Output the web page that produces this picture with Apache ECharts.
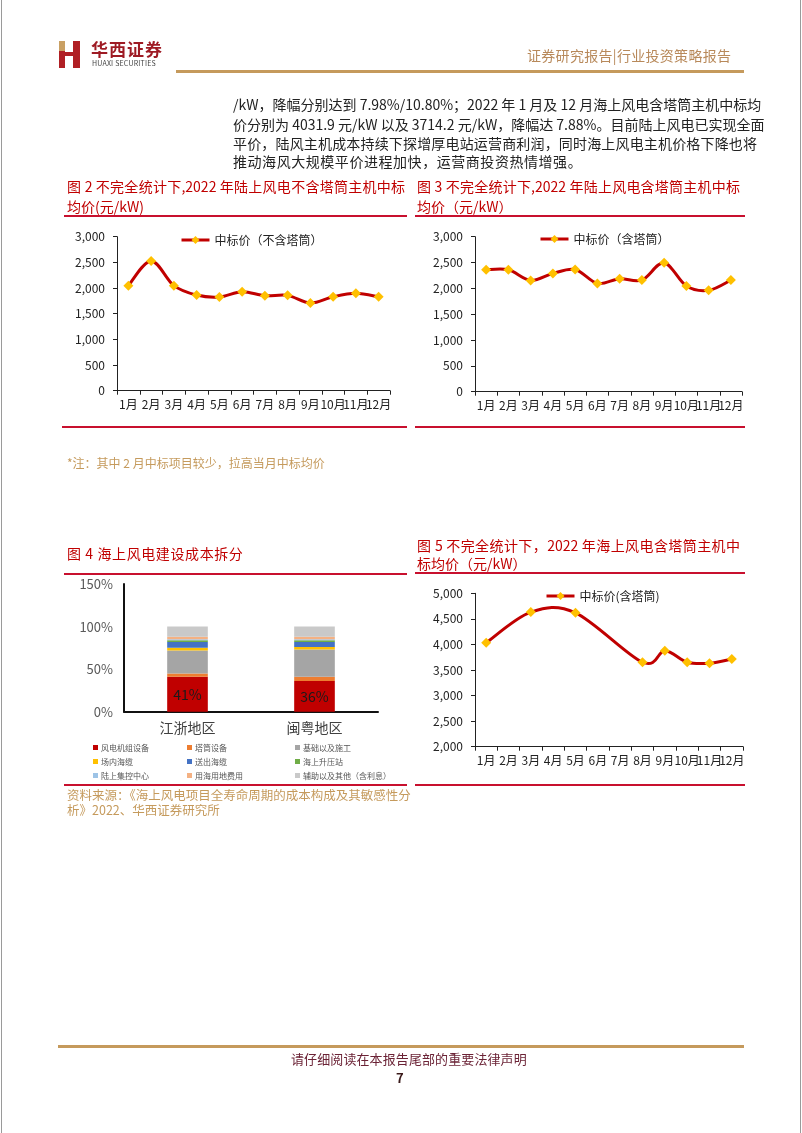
<!DOCTYPE html>
<html><head><meta charset="utf-8">
<script src="https://cdn.jsdelivr.net/npm/echarts/dist/echarts.min.js"></script>
<style>
html,body{margin:0;padding:0;background:#fff;}
#page{position:relative;width:802px;height:1133px;overflow:hidden;font-family:'Noto Sans CJK SC','Noto Sans',sans-serif;background:#fff;}
#chart{position:absolute;left:0;top:0;width:802px;height:1133px;}
.t{position:absolute;white-space:nowrap;}
.j{text-align:justify;text-align-last:justify;}
.body{font-size:14px;line-height:20px;color:#222;left:233px;width:524px;}
.ttl{font-size:14px;line-height:18px;color:#C00000;}
.rl{position:absolute;height:2px;background:#C8102E;}
.gold{position:absolute;height:3px;background:#C59A5C;}
.src{font-size:12.5px;line-height:16px;color:#C59A5C;}
.edge{position:absolute;top:0;width:1px;height:1133px;background:#9a9a9a;}
</style></head>
<body>
<div id="page">
<div id="chart"></div>
<div class="edge" style="left:1px"></div>
<div class="edge" style="left:800px"></div>
<!-- logo -->
<div style="position:absolute;left:59px;top:41px;width:6px;height:10px;background:#C9A063"></div>
<div style="position:absolute;left:59px;top:51px;width:6px;height:17px;background:#B01F24"></div>
<div style="position:absolute;left:65px;top:52px;width:9px;height:4px;background:#B01F24"></div>
<div style="position:absolute;left:73px;top:41px;width:7px;height:27px;background:#B01F24"></div>
<div class="t" style="left:91px;top:40px;font-size:17px;line-height:18px;font-weight:bold;color:#9E1B24;letter-spacing:1px">华西证券</div>
<div class="t" style="left:92px;top:59px;font-size:7px;line-height:8px;color:#444;letter-spacing:0.2px">HUAXI SECURITIES</div>
<div class="t" style="left:527px;top:46px;font-size:14px;line-height:18px;color:#B8895A;letter-spacing:0.3px">证券研究报告|行业投资策略报告</div>
<div class="gold" style="left:176px;top:70px;width:568px;"></div>

<div class="t body j" style="top:94px">/kW，降幅分别达到 7.98%/10.80%；2022 年 1 月及 12 月海上风电含塔筒主机中标均</div>
<div class="t body j" style="top:114px">价分别为 4031.9 元/kW 以及 3714.2 元/kW，降幅达 7.88%。目前陆上风电已实现全面</div>
<div class="t body j" style="top:133px">平价，陆风主机成本持续下探增厚电站运营商利润，同时海上风电主机价格下降也将</div>
<div class="t body" style="top:151px;letter-spacing:0.55px">推动海风大规模平价进程加快，运营商投资热情增强。</div>

<!-- Figure 2 -->
<div class="t ttl j" style="left:67px;top:177px;width:338px">图 2 不完全统计下,2022 年陆上风电不含塔筒主机中标</div>
<div class="t ttl" style="left:67px;top:197px">均价(元/kW)</div>
<div class="rl" style="left:64px;top:215px;width:343px"></div>
<div class="rl" style="left:62px;top:426px;width:345px"></div>
<!-- Figure 3 -->
<div class="t ttl j" style="left:417px;top:177px;width:323px">图 3 不完全统计下,2022 年陆上风电含塔筒主机中标</div>
<div class="t ttl" style="left:417px;top:197px">均价（元/kW）</div>
<div class="rl" style="left:415px;top:215px;width:330px"></div>
<div class="rl" style="left:415px;top:426px;width:330px"></div>

<div class="t src" style="left:67px;top:455px;font-size:12px">*注：其中 2 月中标项目较少，拉高当月中标均价</div>

<!-- Figure 4 -->
<div class="t ttl" style="left:67px;top:544px;letter-spacing:0.6px">图 4 海上风电建设成本拆分</div>
<div class="rl" style="left:64px;top:573px;width:343px"></div>
<div class="rl" style="left:64px;top:784px;width:343px"></div>
<div class="t src j" style="left:67px;top:787px;width:338px">资料来源：《海上风电项目全寿命周期的成本构成及其敏感性分</div>
<div class="t src" style="left:67px;top:802px">析》2022、华西证券研究所</div>

<!-- Figure 5 -->
<div class="t ttl j" style="left:417px;top:536px;width:323px">图 5 不完全统计下，2022 年海上风电含塔筒主机中</div>
<div class="t ttl" style="left:417px;top:554px">标均价（元/kW）</div>
<div class="rl" style="left:415px;top:572px;width:330px"></div>
<div class="rl" style="left:415px;top:784px;width:330px"></div>

<!-- footer -->
<div class="gold" style="left:58px;top:1045px;width:686px;"></div>
<div class="t" style="left:291px;top:1050px;font-size:13px;line-height:17px;color:#6B2336;letter-spacing:0.1px">请仔细阅读在本报告尾部的重要法律声明</div>
<div class="t" style="left:396px;top:1069px;font-size:13px;line-height:17px;font-weight:bold;color:#3a1a1a">7</div>
</div>
<script>
// ---------- data ----------
const months = ['1月','2月','3月','4月','5月','6月','7月','8月','9月','10月','11月','12月'];
const onshoreNoTowerName = '中标价（不含塔筒）';
const onshoreNoTower = [2046, 2528, 2046, 1863, 1824, 1928, 1850, 1857, 1707, 1830, 1896, 1830];
const onshoreTowerName = '中标价（含塔筒）';
const onshoreTower = [2359, 2359, 2154, 2288, 2365, 2096, 2186, 2160, 2494, 2045, 1962, 2160];
const offshoreTowerName = '中标价(含塔筒)';
const offshoreTower = [4031.9, null, 4632, null, 4619, null, null, 3652, 3876, 3652, 3632, 3714.2];

const regions = ['江浙地区','闽粤地区'];
const costNames = ['风电机组设备','塔筒设备','基础以及施工','场内海缆','送出海缆','海上升压站','陆上集控中心','用海用地费用','辅助以及其他（含利息）'];
const turbineEquip = [41, 36];
const towerEquip = [4, 5];
const foundationWork = [27, 32];
const arrayCable = [3, 3];
const exportCable = [7, 6];
const offshoreSubstation = [2, 2];
const onshoreControl = [1, 1];
const seaUseFee = [3, 3];
const auxOther = [12, 12];
const costData = [turbineEquip, towerEquip, foundationWork, arrayCable, exportCable, offshoreSubstation, onshoreControl, seaUseFee, auxOther];
const costColors = ['#C00000','#ED7D31','#A5A5A5','#FFC000','#4472C4','#70AD47','#9DC3E6','#F4B183','#C9C9C9'];

const tickOnshore = {min:0, max:3000, interval:500};
const tickOffshore = {min:2000, max:5000, interval:500};
const tickCost = {min:0, max:150, interval:50};

// [categoryIndex, value] pairs, skipping months without a value
const toPairs = arr => arr.map((v, i) => [i, v]).filter(p => p[1] !== null);

// ---------- chart ----------
const font = "'Noto Sans CJK SC', sans-serif";
const RED = '#C00000';
const chart = echarts.init(document.getElementById('chart'), null, {renderer:'canvas'});
const grids = [
  {left:117, top:236.7, width:273, height:154},
  {left:475, top:236.7, width:267, height:155},
  {left:124, top:584, width:254, height:127.7},
  {left:475, top:593.3, width:268, height:153.4}
].map(g => Object.assign({containLabel:false, outerBoundsMode:'none'}, g));

function catAxis(i){
  return {type:'category', gridIndex:i, data:months, boundaryGap:true,
    axisLine:{lineStyle:{color:'#222', width:1}},
    axisTick:{show:true, inside:false, length:4, interval:0, lineStyle:{color:'#222'}},
    axisLabel:{interval:0, margin:8, fontSize:12, color:'#222', fontFamily:font}};
}
function valAxis(i, t){
  return {type:'value', gridIndex:i, min:t.min, max:t.max, interval:t.interval,
    axisLine:{show:true, lineStyle:{color:'#222', width:1}},
    axisTick:{show:true, inside:false, length:4, lineStyle:{color:'#222'}},
    splitLine:{show:false},
    axisLabel:{margin:12, fontSize:12, color:'#222', fontFamily:font,
      formatter: v => v.toLocaleString('en-US')}};
}
// markers (diamonds) through the axes
function markerSeries(name, data, i){
  return {type:'line', name, data, xAxisIndex:i, yAxisIndex:i, connectNulls:true,
    symbol:'diamond', symbolSize:10, lineStyle:{color:RED, width:3, opacity:0},
    itemStyle:{color:'#FFC000', borderWidth:0}, z:5};
}
// Office-style smoothed curve (Catmull-Rom Bezier) through points mapped by api.coord
function curveSeries(data, i){
  const pairs = toPairs(data);
  return {type:'custom', name:'curve' + i, xAxisIndex:i, yAxisIndex:i, data:[0], clip:false, z:4,
    silent:true,
    renderItem(params, api){
      const P = pairs.map(p => api.coord(p));
      const n = P.length, kids = [];
      for (let k = 0; k < n - 1; k++){
        const p0 = P[Math.max(k - 1, 0)], p1 = P[k], p2 = P[k + 1], p3 = P[Math.min(k + 2, n - 1)];
        kids.push({type:'bezierCurve', shape:{
          x1:p1[0], y1:p1[1], x2:p2[0], y2:p2[1],
          cpx1:p1[0] + (p2[0] - p0[0]) / 6, cpy1:p1[1] + (p2[1] - p0[1]) / 6,
          cpx2:p2[0] - (p3[0] - p1[0]) / 6, cpy2:p2[1] - (p3[1] - p1[1]) / 6},
          style:{stroke:RED, lineWidth:3, fill:null, lineCap:'round', lineJoin:'round'}});
      }
      return {type:'group', children:kids};
    }};
}
function lineLegend(name, left, top){
  return {data:[name], left, top, itemWidth:28, itemHeight:10, itemGap:5,
    lineStyle:{color:RED, width:3, opacity:1},
    textStyle:{fontSize:12, color:'#222', fontFamily:font}};
}
const barSeries = costNames.map((n, k) => ({
  type:'bar', name:n, stack:'cost', data:costData[k], xAxisIndex:2, yAxisIndex:2,
  barWidth:'32%', itemStyle:{color:costColors[k]},
  label: k === 0 ? {show:true, position:'inside', formatter:'{c}%', fontSize:14, color:'#1a1a1a', fontFamily:font} : {show:false}
}));
function costLegend(items, left){
  return {data:items, orient:'vertical', left, top:738, icon:'rect', itemWidth:5, itemHeight:5, itemGap:5,
    textStyle:{fontSize:8, lineHeight:9, color:'#555', fontFamily:font, padding:[0,0,0,-2]}};
}

chart.setOption({
  animation:false,
  grid:grids,
  xAxis:[catAxis(0), catAxis(1),
    {type:'category', gridIndex:2, data:regions,
      axisLine:{lineStyle:{color:'#111', width:2}}, axisTick:{show:false},
      axisLabel:{margin:9, fontSize:14, color:'#404040', fontFamily:font}},
    catAxis(3)],
  yAxis:[valAxis(0, tickOnshore), valAxis(1, tickOnshore),
    {type:'value', gridIndex:2, min:tickCost.min, max:tickCost.max, interval:tickCost.interval,
      axisLine:{show:true, lineStyle:{color:'#111', width:2}}, axisTick:{show:false}, splitLine:{show:false},
      axisLabel:{margin:11, fontSize:13, color:'#595959', fontFamily:font, formatter:'{value}%'}},
    valAxis(3, tickOffshore)],
  legend:[
    lineLegend(onshoreNoTowerName, 175, 229),
    lineLegend(onshoreTowerName, 534, 228),
    costLegend([costNames[0], costNames[3], costNames[6]], 88),
    costLegend([costNames[1], costNames[4], costNames[7]], 182),
    costLegend([costNames[2], costNames[5], costNames[8]], 290),
    lineLegend(offshoreTowerName, 540, 585)
  ],
  series:[
    curveSeries(onshoreNoTower, 0),
    markerSeries(onshoreNoTowerName, onshoreNoTower, 0),
    curveSeries(onshoreTower, 1),
    markerSeries(onshoreTowerName, onshoreTower, 1),
    ...barSeries,
    curveSeries(offshoreTower, 3),
    markerSeries(offshoreTowerName, offshoreTower, 3)
  ]
});
</script>
</body></html>
